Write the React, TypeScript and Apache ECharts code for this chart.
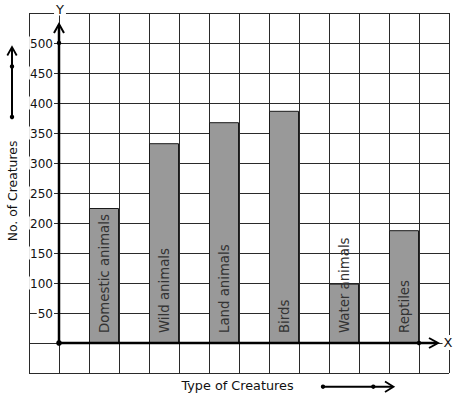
import React, { useEffect, useRef } from 'react';
import * as echarts from 'echarts';

const categories = ['Domestic animals', 'Wild animals', 'Land animals', 'Birds', 'Water animals', 'Reptiles'];
const creatureCounts = [225, 333, 368, 387, 99, 188];
const yTickLabels = [50, 100, 150, 200, 250, 300, 350, 400, 450, 500];
const yAxisTitle = 'No. of Creatures';
const xAxisTitle = 'Type of Creatures';

const SLOT_COUNT = 14;
const FIRST_SLOT = 2;
const SLOT_STEP = 2;
const FONT = 'DejaVu Sans';

export default function App() {
  const ref = useRef<HTMLDivElement>(null);

  useEffect(() => {
    if (!ref.current) return;
    const chart = echarts.init(ref.current, undefined, { renderer: 'svg' });

    const slotNames: string[] = [];
    const slotValues: (number | null)[] = [];
    for (let i = 0; i < SLOT_COUNT; i++) {
      slotNames.push('slot-' + i);
      slotValues.push(null);
    }
    categories.forEach((c, k) => {
      slotNames[FIRST_SLOT + k * SLOT_STEP] = c;
      slotValues[FIRST_SLOT + k * SLOT_STEP] = creatureCounts[k];
    });

    const gridLine = { color: '#2a2a2a', width: 1 };

    chart.setOption({
      animation: false,
      backgroundColor: '#fff',
      grid: { left: 29, top: 13, right: 8, bottom: 26, containLabel: false, outerBoundsMode: 'none' },
      xAxis: {
        type: 'category',
        data: slotNames,
        boundaryGap: true,
        axisLine: { show: false },
        axisTick: { show: false },
        axisLabel: { show: false },
        splitLine: { show: true, interval: 0, lineStyle: gridLine },
        z: 0,
      },
      yAxis: [
        {
          type: 'value',
          min: -50,
          max: 550,
          interval: 50,
          offset: -30,
          axisLine: { show: false },
          axisTick: { show: false },
          axisLabel: { show: false },
          splitLine: { show: true, lineStyle: gridLine },
          z: 0,
        },
        {
          type: 'value',
          min: -50,
          max: 550,
          interval: 50,
          offset: -30,
          position: 'left',
          axisLine: { show: false },
          axisTick: { show: false },
          splitLine: { show: false },
          z: 5,
          axisLabel: {
            show: true,
            margin: 5,
            formatter: (v: number) => (yTickLabels.indexOf(v) >= 0 ? `{b|${v}}` : ''),
            rich: {
              b: {
                backgroundColor: '#fff',
                padding: [1, 1, 0, 1],
                fontSize: 12,
                fontFamily: FONT,
                color: '#111',
              },
            },
          },
        },
      ],
      series: [
        {
          type: 'bar',
          data: slotValues,
          barWidth: '100%',
          z: 2,
          itemStyle: { color: '#999999', borderColor: '#1a1a1a', borderWidth: 1 },
          label: {
            show: true,
            position: 'insideBottom',
            distance: 10,
            rotate: 90,
            align: 'left',
            verticalAlign: 'middle',
            fontSize: 13.3,
            fontFamily: FONT,
            color: '#333',
            formatter: (p: any) => slotNames[p.dataIndex],
          },
        },
      ],
    });

    const pxX = (i: number) => chart.convertToPixel({ xAxisIndex: 0 }, i) as unknown as number;
    const pxY = (v: number) => chart.convertToPixel({ yAxisIndex: 0 }, v) as unknown as number;
    const w = pxX(1) - pxX(0);
    const ox = pxX(0) + w / 2;
    const oy = pxY(0);
    const gridTop = pxY(550);
    const gridRight = pxX(SLOT_COUNT - 1) + w / 2;
    const yTip = gridTop + 11;
    const xTip = gridRight - 11;
    const dotX = pxX(SLOT_COUNT - 2) + w / 2;
    const stroke = '#000';
    const z = 20;

    const txt = (x: number, y: number, text: string, extra: any = {}) => ({
      type: 'text',
      x,
      y,
      z,
      ...extra,
      style: {
        text,
        fontSize: 13,
        fontFamily: FONT,
        fill: '#111',
        align: 'center',
        verticalAlign: 'middle',
        textAlign: 'center',
        textVerticalAlign: 'middle',
        ...(extra.style || {}),
      },
    });

    const dot = (x: number, y: number, r = 2.5) => ({ type: 'circle', z, shape: { cx: x, cy: y, r }, style: { fill: stroke } });

    chart.setOption({
      graphic: [
        // Y axis
        { type: 'line', z, shape: { x1: ox, y1: oy, x2: ox, y2: yTip + 1 }, style: { stroke, lineWidth: 2.5 } },
        { type: 'polyline', z, shape: { points: [[ox - 5, yTip + 9], [ox, yTip], [ox + 5, yTip + 9]] }, style: { stroke, lineWidth: 2, fill: 'none' } },
        dot(ox, pxY(500), 2.2),
        // X axis
        { type: 'line', z, shape: { x1: ox, y1: oy, x2: xTip - 1, y2: oy }, style: { stroke, lineWidth: 2.5 } },
        { type: 'polyline', z, shape: { points: [[xTip - 9, oy - 5], [xTip, oy], [xTip - 9, oy + 5]] }, style: { stroke, lineWidth: 2, fill: 'none' } },
        dot(dotX, oy, 2.2),
        dot(ox, oy, 2.8),
        txt(gridRight - 1, oy - 0.5, 'X', { style: { backgroundColor: '#fff', padding: [1, 1] } }),
        txt(ox + 1, 9, 'Y', { style: { backgroundColor: '#fff', padding: [0, 2] } }),
        // Left title arrow
        { type: 'line', z, shape: { x1: 12, y1: 117, x2: 12, y2: 48 }, style: { stroke, lineWidth: 2 } },
        { type: 'polyline', z, shape: { points: [[7.3, 55.5], [12, 47], [16.7, 55.5]] }, style: { stroke, lineWidth: 1.8, fill: 'none' } },
        dot(12, 66.5, 2.2),
        dot(12, 117, 2.2),
        txt(12, 191, yAxisTitle, { rotation: Math.PI / 2, style: { fontSize: 12.4 } }),
        // Bottom title arrow
        { type: 'line', z, shape: { x1: 323, y1: 386.7, x2: 392, y2: 386.7 }, style: { stroke, lineWidth: 2 } },
        { type: 'polyline', z, shape: { points: [[385, 381.5], [393.5, 386.7], [385, 392]] }, style: { stroke, lineWidth: 1.8, fill: 'none' } },
        dot(323, 386.7, 2.2),
        dot(373.3, 386.7, 2.2),
        txt(237.5, 385.5, xAxisTitle, { style: { fontSize: 12.8 } }),
      ],
    });

    return () => chart.dispose();
  }, []);

  return (
    <div
      ref={ref}
      style={{ position: 'absolute', left: 0, top: 0, width: 457, height: 399, background: '#fff' }}
    />
  );
}
